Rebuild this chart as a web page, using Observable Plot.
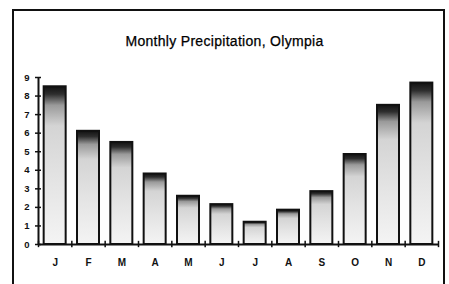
<!DOCTYPE html>
<html>
<head>
<meta charset="utf-8">
<script src="https://cdn.jsdelivr.net/npm/d3@7"></script>
<script src="https://cdn.jsdelivr.net/npm/@observablehq/plot@0.6"></script>
<style>
  html, body { margin: 0; padding: 0; background: #fff; }
  #wrap { position: relative; width: 449px; height: 284px; overflow: hidden; background: #fff; font-family: "Liberation Sans", Arial, sans-serif; }
  #frame { position: absolute; left: 12px; top: 9px; width: 433px; height: 400px; border: 2px solid #111; box-sizing: border-box; }
  #title { position: absolute; left: 0; top: 34px; width: 449px; text-align: center; font-size: 14px; letter-spacing: 0.3px; line-height: 1; color: #000; -webkit-text-stroke: 0.25px #000; }
  #chart { position: absolute; left: 0; top: 0; }
</style>
</head>
<body>
<div id="wrap">
  <div id="frame"></div>
  <div id="title">Monthly Precipitation, Olympia</div>
  <div id="chart"></div>
</div>
<script>
const months = ["Jan","Feb","Mar","Apr","May","Jun","Jul","Aug","Sep","Oct","Nov","Dec"];
const monthLabels = ["J","F","M","A","M","J","J","A","S","O","N","D"];
const precipitation = [8.5, 6.1, 5.5, 3.8, 2.6, 2.15, 1.2, 1.85, 2.85, 4.85, 7.5, 8.7];
const yTicks = [0,1,2,3,4,5,6,7,8,9];

const data = months.map((m, i) => ({month: m, index: i, value: precipitation[i]}));
const boundaries = d3.range(months.length + 1);
const centers = months.map((m, i) => i + 0.5);

const chart = Plot.plot({
  width: 449,
  height: 284,
  marginLeft: 38,
  marginRight: 11,
  marginTop: 77,
  marginBottom: 40,
  style: {background: "transparent", fontFamily: "'Liberation Sans', Arial, sans-serif", color: "#111", overflow: "visible"},
  x: {domain: [0, months.length], label: null},
  y: {domain: [0, 9], label: null},
  marks: [
    Plot.rectY(data, {x1: d => d.index + 0.17, x2: d => d.index + 0.83, y: "value", fill: "url(#stipple)", stroke: "#111", strokeWidth: 2}),
    Plot.ruleY([0], {stroke: "#111", strokeWidth: 2}),
    Plot.ruleX([0], {y1: 0, y2: 9, stroke: "#111", strokeWidth: 2}),
    Plot.ruleX(boundaries, {y1: -0.17, y2: 0.17, stroke: "#111", strokeWidth: 1.5}),
    Plot.ruleY(yTicks, {x1: -0.09, x2: 0.09, stroke: "#111", strokeWidth: 1.5}),
    Plot.axisY({ticks: yTicks, tickSize: 0, tickPadding: 9, fontSize: 9.5, fontWeight: "bold", tickFormat: d => String(d), label: null}),
    Plot.axisX({ticks: centers, tickSize: 0, tickPadding: 14, fontSize: 10, fontWeight: "bold", tickFormat: d => monthLabels[Math.floor(d)], label: null})
  ]
});

const ns = "http://www.w3.org/2000/svg";
const defs = document.createElementNS(ns, "defs");
const grad = document.createElementNS(ns, "linearGradient");
grad.setAttribute("id", "stipple");
grad.setAttribute("x1", "0"); grad.setAttribute("y1", "0");
grad.setAttribute("x2", "0"); grad.setAttribute("y2", "1");
[[0, "#111"], [0.05, "#2e2e2e"], [0.12, "#9a9a9a"], [0.25, "#d4d4d4"], [0.6, "#e4e4e4"], [1, "#f4f4f4"]].forEach(([o, c]) => {
  const s = document.createElementNS(ns, "stop");
  s.setAttribute("offset", o);
  s.setAttribute("stop-color", c);
  grad.appendChild(s);
});
defs.appendChild(grad);
chart.insertBefore(defs, chart.firstChild);

document.getElementById("chart").appendChild(chart);
</script>
</body>
</html>
